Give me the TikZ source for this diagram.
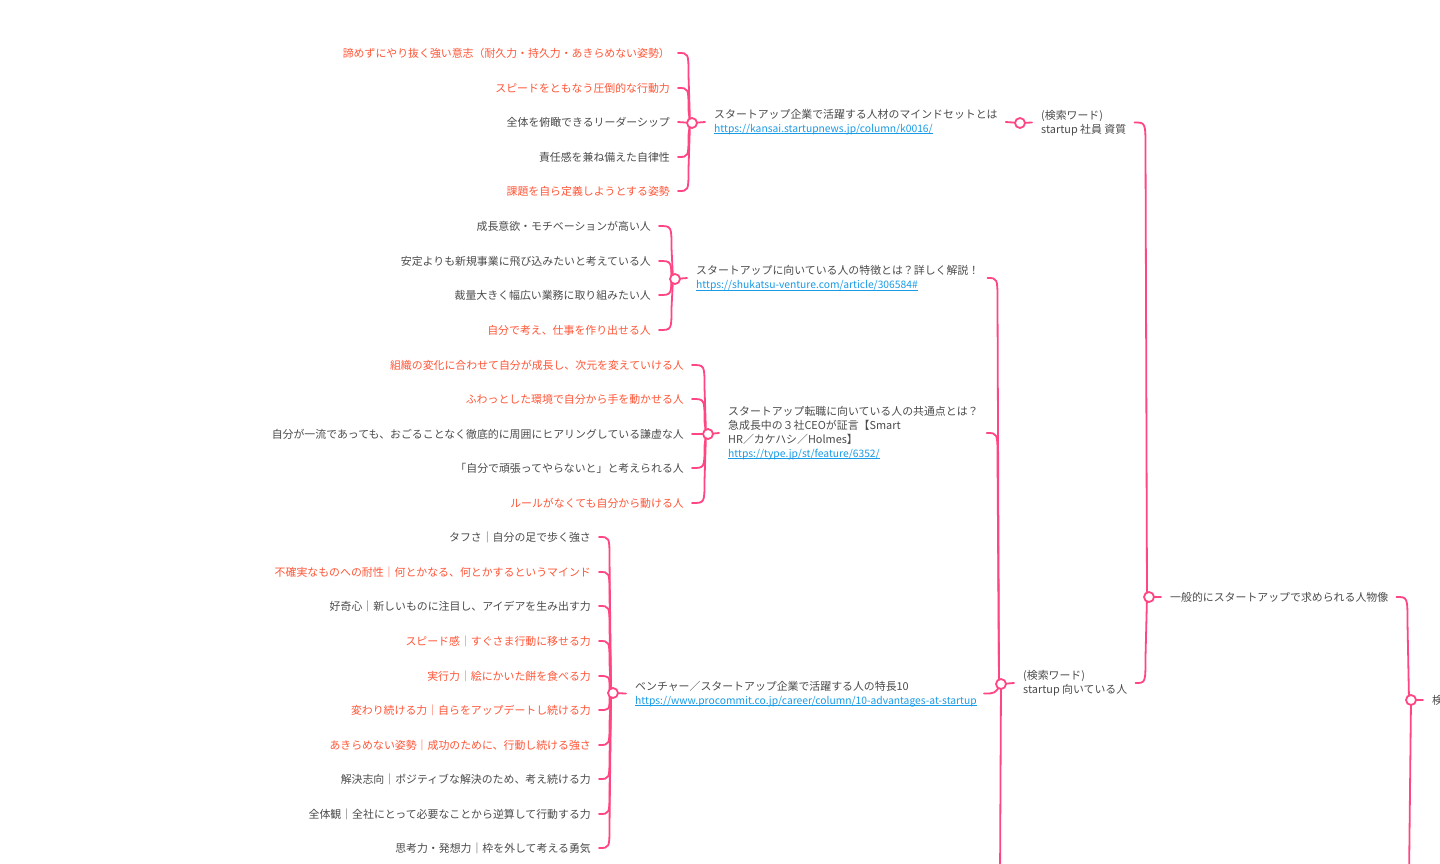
\documentclass[tikz,border=0pt]{standalone}
\usepackage{fontspec}
\setmainfont{Noto Sans CJK JP}
\usetikzlibrary{calc}
\pgfdeclarelayer{bg}
\pgfsetlayers{bg,main}
\definecolor{pinkline}{RGB}{255,70,130}
\definecolor{redtxt}{RGB}{255,85,55}
\definecolor{graytxt}{RGB}{75,75,75}
\definecolor{linkblue}{RGB}{25,155,230}
\newcommand\jpsize{\fontsize{10.9}{14}\selectfont}
\newcommand\ls{\rule[-1.3pt]{0pt}{10.9pt}}
\newcommand\lnk[1]{{\fontsize{10.3}{14}\selectfont\color{linkblue}\setbox0\hbox{#1}\rlap{\smash{\rule[-1.6pt]{\wd0}{0.7pt}}}\box0}}
% connectors: child node (#2) to hub circle (#3)
\newcommand\brdown[3][22pt]{\draw[conn] let \p1=($(#2.east)+(8,0)$), \p2=(#3.center) in (\p1) .. controls (\x2-3.5pt,\y1) .. (\x2-3.5pt,\y1-#1) -- (\x2-2pt,\y2);}
\newcommand\brup[3][22pt]{\draw[conn] let \p1=($(#2.east)+(8,0)$), \p2=(#3.center) in (\p1) .. controls (\x2-3.5pt,\y1) .. (\x2-3.5pt,\y1+#1) -- (\x2-2pt,\y2);}
\newcommand\brflat[2]{\draw[conn] ($(#1.east)+(8,0)$) -- (#2.center);}
\newcommand\stub[2]{\draw[conn] (#1.center) -- ($(#2.west)+(-9,0)$);}
\begin{document}
\begin{tikzpicture}[x=1pt,y=-1pt,
  hub/.style={circle,draw=pinkline,line width=1.8pt,fill=white,minimum size=10pt,inner sep=0pt},
  conn/.style={draw=pinkline,line width=1.8pt,line cap=round},
  leafr/.style={anchor=east,inner sep=0pt,font=\jpsize,text=redtxt},
  leafg/.style={anchor=east,inner sep=0pt,font=\jpsize,text=graytxt},
  topic/.style={anchor=west,inner sep=0pt,font=\jpsize,text=graytxt,align=left}]
\useasboundingbox (0,0) rectangle (1440,863);

% hubs
\node[hub] (c1) at (692,123) {};
\node[hub] (c2) at (1020,123) {};
\node[hub] (c3) at (675,279) {};
\node[hub] (c4) at (708,434) {};
\node[hub] (c5) at (613,693) {};
\node[hub] (c6) at (1001,684) {};
\node[hub] (c7) at (1149,597) {};
\node[hub] (c8) at (1411,700) {};

% topics
\node[topic] (t1) at (714,122) {\ls スタートアップ企業で活躍する人材のマインドセットとは\\\ls\lnk{https://kansai.startupnews.jp/column/k0016/}};
\node[topic] (t2) at (1041,122.5) {\ls (検索ワード)\\\ls startup 社員 資質};
\node[topic] (t3) at (696,278) {\ls スタートアップに向いている人の特徴とは？詳しく解説！\\\ls\lnk{https://shukatsu-venture.com/article/306584\#}};
\node[topic] (t4) at (728,433) {\ls スタートアップ転職に向いている人の共通点とは？\\\ls 急成長中の３社CEOが証言【Smart\\\ls HR／カケハシ／Holmes】\\\ls\lnk{https://type.jp/st/feature/6352/}};
\node[topic] (t5) at (635,693.5) {\ls ベンチャー／スタートアップ企業で活躍する人の特長10\\\ls\lnk{https://www.procommit.co.jp/career/column/10-advantages-at-startup}};
\node[topic] (t6) at (1023,683) {\ls (検索ワード)\\\ls startup 向いている人};
\node[topic] (t7) at (1170,597) {\ls 一般的にスタートアップで求められる人物像};
\node[topic] (t8) at (1432,700) {\ls 検};

% group 1
\node[leafr] (a1) at (670,53) {\ls 諦めずにやり抜く強い意志（耐久力・持久力・あきらめない姿勢）};
\node[leafr] (a2) at (670,88) {\ls スピードをともなう圧倒的な行動力};
\node[leafg] (a3) at (670,122) {\ls 全体を俯瞰できるリーダーシップ};
\node[leafg] (a4) at (670,157) {\ls 責任感を兼ね備えた自律性};
\node[leafr] (a5) at (670,191) {\ls 課題を自ら定義しようとする姿勢};
% group 2
\node[leafg] (b1) at (651,226) {\ls 成長意欲・モチベーションが高い人};
\node[leafg] (b2) at (651,261) {\ls 安定よりも新規事業に飛び込みたいと考えている人};
\node[leafg] (b3) at (651,295) {\ls 裁量大きく幅広い業務に取り組みたい人};
\node[leafr] (b4) at (651,330) {\ls 自分で考え、仕事を作り出せる人};
% group 3
\node[leafr] (d1) at (684,365) {\ls 組織の変化に合わせて自分が成長し、次元を変えていける人};
\node[leafr] (d2) at (684,399) {\ls ふわっとした環境で自分から手を動かせる人};
\node[leafg] (d3) at (684,434) {\ls 自分が一流であっても、おごることなく徹底的に周囲にヒアリングしている謙虚な人};
\node[leafg] (d4) at (684,468) {\ls 「自分で頑張ってやらないと」と考えられる人};
\node[leafr] (d5) at (684,503) {\ls ルールがなくても自分から動ける人};
% group 4
\node[leafg] (e1) at (591,537) {\ls タフさ｜自分の足で歩く強さ};
\node[leafr] (e2) at (591,572) {\ls 不確実なものへの耐性｜何とかなる、何とかするというマインド};
\node[leafg] (e3) at (591,606) {\ls 好奇心｜新しいものに注目し、アイデアを生み出す力};
\node[leafr] (e4) at (591,641) {\ls スピード感｜すぐさま行動に移せる力};
\node[leafr] (e5) at (591,676) {\ls 実行力｜絵にかいた餅を食べる力};
\node[leafr] (e6) at (591,710) {\ls 変わり続ける力｜自らをアップデートし続ける力};
\node[leafr] (e7) at (591,745) {\ls あきらめない姿勢｜成功のために、行動し続ける強さ};
\node[leafg] (e8) at (591,779) {\ls 解決志向｜ポジティブな解決のため、考え続ける力};
\node[leafg] (e9) at (591,814) {\ls 全体観｜全社にとって必要なことから逆算して行動する力};
\node[leafg] (e10) at (591,848) {\ls 思考力・発想力｜枠を外して考える勇気};

\coordinate (z6) at (1000,880);
\coordinate (z8) at (1409,880);

\begin{pgfonlayer}{bg}
\fill[white] (0,0) rectangle (1440,863);
% stubs hub -> own text
\stub{c1}{t1}\stub{c2}{t2}\stub{c3}{t3}\stub{c4}{t4}
\stub{c5}{t5}\stub{c6}{t6}\stub{c7}{t7}\stub{c8}{t8}
% group 1
\brdown{a1}{c1}\brdown{a2}{c1}\brflat{a3}{c1}\brup{a4}{c1}\brup{a5}{c1}
% group 2
\brdown{b1}{c3}\brdown{b2}{c3}\brup{b3}{c3}\brup{b4}{c3}
% group 3
\brdown{d1}{c4}\brdown{d2}{c4}\brflat{d3}{c4}\brup{d4}{c4}\brup{d5}{c4}
% group 4
\brdown{e1}{c5}\brdown{e2}{c5}\brdown{e3}{c5}\brdown{e4}{c5}\brdown[12pt]{e5}{c5}
\brup[12pt]{e6}{c5}\brup{e7}{c5}\brup{e8}{c5}\brup{e9}{c5}\brup{e10}{c5}
% upper levels
\brflat{t1}{c2}
\brdown[26pt]{t2}{c7}
\brdown[24pt]{t3}{c6}
\brdown[24pt]{t4}{c6}
\draw[conn] let \p1=($(t5.east)+(7,0)$), \p2=(c6.center) in (\p1) .. controls (\x2-6pt,\y1) .. (\p2);
\brup[26pt]{t6}{c7}
\brdown[26pt]{t7}{c8}
\draw[conn] (c6.center) -- (z6);
\draw[conn] (c8.center) -- (z8);
\end{pgfonlayer}
\end{tikzpicture}
\end{document}
